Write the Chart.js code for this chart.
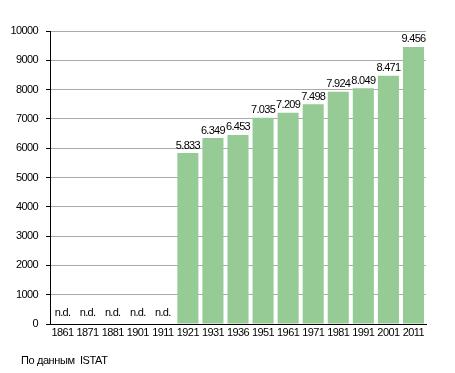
<!DOCTYPE html>
<html>
<head>
<meta charset="utf-8">
<script src="https://cdn.jsdelivr.net/npm/chart.js@4"></script>
<style>
  html, body { margin: 0; padding: 0; background: #fff; }
  #wrap { width: 455px; height: 373px; }
</style>
</head>
<body>
<div id="wrap"><canvas id="chart"></canvas></div>
<script>
const years = ['1861', '1871', '1881', '1901', '1911', '1921', '1931', '1936', '1951', '1961', '1971', '1981', '1991', '2001', '2011'];
const population = [null, null, null, null, null, 5833, 6349, 6453, 7035, 7209, 7498, 7924, 8049, 8471, 9456];
const sourceNote = 'По данным  ISTAT';

const FONT = '"Liberation Sans", Arial, sans-serif';

function fmt(v) {
  return String(v).replace(/\B(?=(\d{3})+(?!\d))/g, '.');
}

// the reference text is a bit condensed, tighten the spacing for all chart text
const tightText = {
  id: 'tightText',
  beforeDraw(chart) { chart.ctx.letterSpacing = '-0.6px'; },
  afterDraw(chart) { chart.ctx.letterSpacing = '0px'; }
};

// value labels above bars, "n.d." where there is no data, and the source note
const labelsPlugin = {
  id: 'barLabels',
  afterDatasetsDraw(chart) {
    const ctx = chart.ctx;
    const meta = chart.getDatasetMeta(0);
    const xScale = chart.scales.x;
    const yScale = chart.scales.y;
    ctx.save();
    ctx.letterSpacing = '-0.7px';
    ctx.font = '11px ' + FONT;
    ctx.fillStyle = '#000';
    ctx.textAlign = 'center';
    population.forEach((v, i) => {
      const x = xScale.getPixelForValue(i);
      if (v === null) {
        ctx.textBaseline = 'middle';
        ctx.fillText('n.d.', x, yScale.getPixelForValue(0) - 11);
      } else {
        ctx.textBaseline = 'bottom';
        ctx.fillText(fmt(v), meta.data[i].x, meta.data[i].y - 2);
      }
    });
    ctx.letterSpacing = '-0.4px';
    ctx.textAlign = 'left';
    ctx.textBaseline = 'middle';
    ctx.fillText(sourceNote, 21, 361);
    ctx.restore();
  }
};

new Chart(document.getElementById('chart'), {
  type: 'bar',
  data: {
    labels: years,
    datasets: [{
      data: population,
      backgroundColor: '#96cb96',
      barPercentage: 0.84,
      categoryPercentage: 1
    }]
  },
  options: {
    responsive: true,
    maintainAspectRatio: false,
    animation: false,
    layout: { padding: { left: 0, right: 29, top: 31, bottom: 29 } },
    plugins: {
      legend: { display: false },
      tooltip: { enabled: false }
    },
    scales: {
      x: {
        grid: { display: false, drawTicks: false },
        border: { color: '#000', width: 1 },
        ticks: { color: '#000', font: { family: FONT, size: 11 }, padding: 2, maxRotation: 0, autoSkip: false },
        afterFit(scale) { scale.height = 20; }
      },
      y: {
        min: 0,
        max: 10000,
        border: { color: '#000', width: 1 },
        grid: {
          color: (c) => (c.tick && c.tick.value % 1000 === 0) ? '#aaaaaa' : '#dddddd',
          tickColor: '#000',
          tickLength: 4,
          drawTicks: true
        },
        ticks: {
          stepSize: 500,
          color: '#000',
          font: { family: FONT, size: 11 },
          padding: 8,
          callback: (v) => v % 1000 === 0 ? v : ''
        },
        afterFit(scale) { scale.width = 50; }
      }
    }
  },
  plugins: [tightText, labelsPlugin]
});
</script>
</body>
</html>
